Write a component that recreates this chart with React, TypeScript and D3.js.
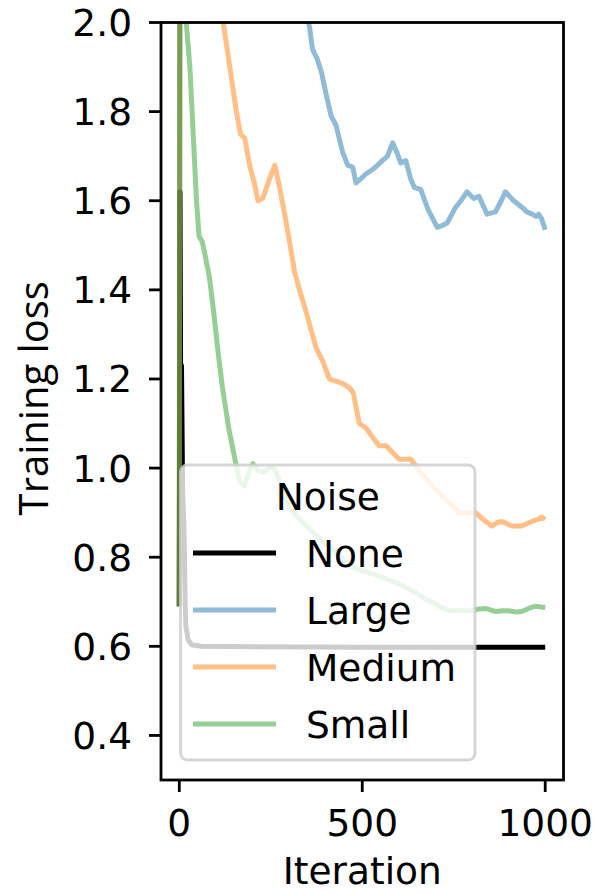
import React from "react";
import * as d3 from "d3";

// ---- data (iteration, training loss) ----
const seriesNames = ["None", "Large", "Medium", "Small"];
const seriesColors = ["#000000", "#1f77b4", "#ff7f0e", "#2ca02c"];
const seriesAlpha = [1, 0.5, 0.5, 0.5];

const noneSeries: [number, number][] = [
  [0, 0.69], [2, 1.62], [4, 1.1], [6, 1.23], [9, 0.95], [13, 0.86], [16, 0.7],
  [18, 0.645], [24, 0.615], [35, 0.603], [60, 0.6], [200, 0.599], [500, 0.598],
  [1000, 0.598],
];

const largeSeries: [number, number][] = [
  [0, 0.69], [2, 2.6], [100, 2.45], [250, 2.25], [330, 2.08], [356, 1.99],
  [364, 1.94], [376, 1.92], [388, 1.89], [401, 1.84], [415, 1.79], [428, 1.77],
  [446, 1.71], [460, 1.68], [474, 1.675], [483, 1.64], [497, 1.65], [510, 1.66],
  [528, 1.67], [542, 1.68], [555, 1.69], [569, 1.7], [583, 1.73], [594, 1.71],
  [605, 1.685], [619, 1.69], [632, 1.65], [642, 1.63], [660, 1.625], [680, 1.58],
  [705, 1.54], [720, 1.545], [732, 1.55], [745, 1.57], [755, 1.585], [770, 1.6],
  [786, 1.62], [805, 1.605], [819, 1.61], [830, 1.59], [841, 1.57], [864, 1.575],
  [880, 1.6], [891, 1.62], [914, 1.6], [937, 1.585], [950, 1.575], [964, 1.57],
  [975, 1.565], [982, 1.57], [990, 1.56], [1000, 1.535],
];

const mediumSeries: [number, number][] = [
  [0, 0.69], [2, 2.6], [60, 2.3], [110, 2.05], [122, 1.99], [138, 1.9],
  [156, 1.8], [167, 1.75], [179, 1.74], [192, 1.68], [205, 1.64], [215, 1.6],
  [228, 1.605], [247, 1.65], [261, 1.68], [274, 1.63], [288, 1.57], [301, 1.51],
  [315, 1.44], [332, 1.39], [347, 1.35], [360, 1.31], [374, 1.27], [392, 1.24],
  [410, 1.2], [428, 1.195], [446, 1.19], [465, 1.18], [475, 1.17], [492, 1.1],
  [510, 1.09], [528, 1.07], [546, 1.05], [565, 1.05], [583, 1.035], [601, 1.02],
  [633, 1.02], [660, 0.99], [691, 0.96], [728, 0.93], [764, 0.9], [790, 0.9],
  [810, 0.9], [830, 0.885], [854, 0.87], [870, 0.878], [882, 0.88], [909, 0.87],
  [936, 0.87], [950, 0.875], [963, 0.88], [980, 0.885], [990, 0.89],
  [1000, 0.885],
];

const smallSeries: [number, number][] = [
  [0, 0.69], [2, 2.6], [10, 2.2], [20, 1.99], [29, 1.9], [38, 1.75], [47, 1.6],
  [54, 1.52], [62, 1.51], [70, 1.48], [82, 1.43], [94, 1.35], [106, 1.26],
  [118, 1.18], [135, 1.09], [152, 1.02], [165, 0.97], [178, 0.96], [190, 0.99],
  [201, 1.01], [215, 0.995], [229, 0.99], [243, 1.0], [256, 1.0], [265, 0.99],
  [283, 0.95], [301, 0.91], [315, 0.9], [329, 0.885], [360, 0.86], [392, 0.835],
  [430, 0.81], [465, 0.78], [500, 0.77], [537, 0.76], [570, 0.75], [600, 0.74],
  [625, 0.73], [647, 0.72], [675, 0.705], [700, 0.695], [720, 0.685],
  [737, 0.68], [770, 0.68], [800, 0.68], [820, 0.684], [837, 0.685],
  [865, 0.678], [885, 0.68], [900, 0.68], [920, 0.677], [936, 0.678],
  [955, 0.685], [973, 0.69], [1000, 0.687],
];

const allSeries = [noneSeries, largeSeries, mediumSeries, smallSeries];

const xTicks = [0, 500, 1000];
const yTicks = [0.4, 0.6, 0.8, 1.0, 1.2, 1.4, 1.6, 1.8, 2.0];
const xDomain: [number, number] = [-50, 1050];
const yDomain: [number, number] = [0.3, 2.0];

export default function App() {
  const W = 596;
  const H = 893;
  const left = 161;
  const right = 563.5;
  const top = 22.5;
  const bottom = 780;

  const x = d3.scaleLinear().domain(xDomain).range([left, right]);
  const y = d3.scaleLinear().domain(yDomain).range([bottom, top]);

  const line = d3
    .line<[number, number]>()
    .x((d) => x(d[0]))
    .y((d) => y(d[1]))
    .curve(d3.curveLinear);

  const font = "DejaVu Sans";
  const fs = 37.5;
  const tickLen = 12;

  // legend geometry
  const lg = { x0: 180.5, y0: 465, x1: 475, y1: 760 };
  const entryY = [553, 610, 667, 724];

  return (
    <svg
      width={W}
      height={H}
      style={{ position: "absolute", left: 0, top: 0, background: "#fff" }}
    >
      <defs>
        <clipPath id="plotClip">
          <rect x={left} y={top} width={right - left} height={bottom - top} />
        </clipPath>
      </defs>

      <g clipPath="url(#plotClip)">
        {allSeries.map((s, i) => (
          <path
            key={seriesNames[i]}
            d={line(s) || ""}
            fill="none"
            stroke={seriesColors[i]}
            strokeOpacity={seriesAlpha[i]}
            strokeWidth={5}
            strokeLinejoin="round"
            strokeLinecap="butt"
          />
        ))}
      </g>

      {/* frame */}
      <rect
        x={left}
        y={top}
        width={right - left}
        height={bottom - top}
        fill="none"
        stroke="#000"
        strokeWidth={2.8}
      />

      {/* y ticks */}
      {yTicks.map((t) => (
        <g key={"y" + t}>
          <line
            x1={left - tickLen}
            x2={left}
            y1={y(t)}
            y2={y(t)}
            stroke="#000"
            strokeWidth={2.8}
          />
          <text
            x={132}
            y={y(t) + 13.5}
            textAnchor="end"
            fontFamily={font}
            fontSize={fs}
            fill="#000"
          >
            {t.toFixed(1)}
          </text>
        </g>
      ))}

      {/* x ticks */}
      {xTicks.map((t) => (
        <g key={"x" + t}>
          <line
            x1={x(t)}
            x2={x(t)}
            y1={bottom}
            y2={bottom + tickLen}
            stroke="#000"
            strokeWidth={2.8}
          />
          <text
            x={x(t)}
            y={836}
            textAnchor="middle"
            fontFamily={font}
            fontSize={fs}
            fill="#000"
          >
            {t}
          </text>
        </g>
      ))}

      {/* axis labels */}
      <text
        x={(left + right) / 2}
        y={884}
        textAnchor="middle"
        fontFamily={font}
        fontSize={fs}
        fill="#000"
      >
        Iteration
      </text>
      <text
        transform={`translate(48, ${(top + bottom) / 2 - 3}) rotate(-90)`}
        textAnchor="middle"
        fontFamily="Open Sans"
        fontSize={40}
        fill="#000"
      >
        Training loss
      </text>

      {/* legend */}
      <rect
        x={lg.x0}
        y={lg.y0}
        width={lg.x1 - lg.x0}
        height={lg.y1 - lg.y0}
        rx={7}
        ry={7}
        fill="#fff"
        fillOpacity={0.8}
        stroke="#cccccc"
        strokeOpacity={0.8}
        strokeWidth={3}
      />
      <text
        x={(lg.x0 + lg.x1) / 2}
        y={510}
        textAnchor="middle"
        fontFamily={font}
        fontSize={fs}
        fill="#000"
      >
        Noise
      </text>
      {seriesNames.map((n, i) => (
        <g key={"lg" + n}>
          <line
            x1={193}
            x2={276}
            y1={entryY[i]}
            y2={entryY[i]}
            stroke={seriesColors[i]}
            strokeOpacity={seriesAlpha[i]}
            strokeWidth={5}
          />
          <text
            x={306}
            y={entryY[i] + 13.5}
            fontFamily={font}
            fontSize={fs}
            fill="#000"
          >
            {n}
          </text>
        </g>
      ))}
    </svg>
  );
}
